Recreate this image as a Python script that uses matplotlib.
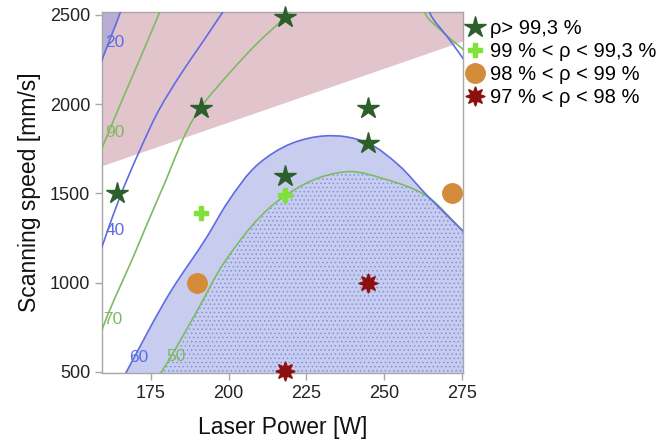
import matplotlib
matplotlib.use("Agg")
import matplotlib.pyplot as plt
from matplotlib.path import Path
from matplotlib.patches import PathPatch
import numpy as np

plt.rcParams['font.family'] = ['Liberation Sans', 'DejaVu Sans']
plt.rcParams['hatch.linewidth'] = 0.6

# ---- data ----
star_P = [164, 191, 218, 218, 245, 245]
star_v = [1500, 1980, 2490, 1600, 1980, 1780]
plus_P = [191, 218]
plus_v = [1390, 1490]
circ_P = [190, 272]
circ_v = [1000, 1500]
red_P = [245, 218]
red_v = [1000, 505]

legend_labels = ["\u03c1> 99,3 %", "99 % < \u03c1 < 99,3 %",
                 "98 % < \u03c1 < 99 %", "97 % < \u03c1 < 98 %"]

# contour lines (laser power, scanning speed)
g90_P = [159.0, 159.7, 164.0, 168.8, 173.3, 177.7, 179.0]
g90_v = [1743, 1771, 1950, 2145, 2327, 2509, 2562]
b20_P = [158.8, 159.7, 162.4, 165.1, 165.6]
b20_v = [2225, 2266, 2387, 2509, 2535]
b40_P = [159.0, 159.7, 165.1, 171.5, 177.4, 184.9, 191.4, 197.5, 198.5]
b40_v = [1187, 1221, 1482, 1743, 1960, 2175, 2341, 2499, 2525]
g70_P = [159.0, 159.7, 169.4, 178.5, 190.6, 200.5, 208.5, 218.4, 220.5]
g70_v = [720, 754, 1146, 1519, 1970, 2178, 2328, 2490, 2525]
b60_P = [166.2, 167.2, 181.7, 193.0, 199.8, 209.6, 220.3, 231.0, 237.4,
         244.9, 254.6, 263.7, 274.4, 275.6]
b60_v = [470, 502, 959, 1255, 1452, 1665, 1780, 1822, 1818,
         1781, 1660, 1491, 1306, 1285]
g50_P = [177.3, 178.5, 189.5, 198.8, 218.1, 230.0, 239.0, 250.3,
         263.2, 274.4, 275.6]
g50_v = [470, 502, 830, 1118, 1486, 1593, 1622, 1580,
         1491, 1306, 1285]
g_ur_P = [262.5, 263.2, 268.5, 274.4, 276.0]
g_ur_v = [2545, 2509, 2410, 2322, 2300]
b_ur_P = [264.0, 264.8, 270.0, 275.0, 276.0]
b_ur_v = [2550, 2509, 2385, 2266, 2240]

pink_P = [159.3, 275.4]
pink_v = [1655, 2354]

labels_txt = ["20", "90", "40", "70", "60", "50"]
labels_P = [163.5, 163.5, 163.5, 162.7, 171.2, 183.1]
labels_v = [2345, 1841, 1290, 791, 581, 587]
labels_col = ["b", "g", "b", "g", "b", "g"]

# ---- styling ----
GREEN = "#7dbb62"
BLUE = "#5e6de0"
BLUE_FILL = "#8592de"
PINK = "#e2c4cd"
SX, SY = 3.11, 0.1786   # approx. pixels per data unit (for spacing weights)


def bezier_through(xs, ys):
    """Smooth Bezier path (Bessel tangents) passing through the read points."""
    p = np.column_stack([xs, ys]).astype(float)
    n = len(p)
    q = p * [SX, SY]
    d = np.hypot(*(np.diff(q, axis=0).T))
    d = np.maximum(d, 1e-6)
    m = np.zeros_like(p)
    for i in range(n):
        if i == 0:
            m[i] = (p[1] - p[0]) / d[0]
        elif i == n - 1:
            m[i] = (p[-1] - p[-2]) / d[-1]
        else:
            s0 = (p[i] - p[i - 1]) / d[i - 1]
            s1 = (p[i + 1] - p[i]) / d[i]
            m[i] = (s0 * d[i] + s1 * d[i - 1]) / (d[i - 1] + d[i])
    verts = [p[0]]
    codes = [Path.MOVETO]
    for i in range(n - 1):
        h = d[i] / 3.0
        verts += [p[i] + m[i] * h, p[i + 1] - m[i + 1] * h, p[i + 1]]
        codes += [Path.CURVE4] * 3
    return verts, codes


def curve_line(ax, xs, ys, **kw):
    v, c = bezier_through(xs, ys)
    ax.add_patch(PathPatch(Path(v, c), fill=False, **kw))


def curve_fill_below(ax, xs, ys, base, **kw):
    v, c = bezier_through(xs, ys)
    v = v + [(xs[-1], base), (xs[0], base), (xs[0], ys[0])]
    c = c + [Path.LINETO, Path.LINETO, Path.CLOSEPOLY]
    ax.add_patch(PathPatch(Path(v, c), **kw))


def curve_fill_left(ax, xs, ys, left, top, **kw):
    v, c = bezier_through(xs, ys)
    v = v + [(xs[-1], top), (left, top), (left, ys[0]), (xs[0], ys[0])]
    c = c + [Path.LINETO, Path.LINETO, Path.LINETO, Path.CLOSEPOLY]
    ax.add_patch(PathPatch(Path(v, c), **kw))


fig = plt.figure(figsize=(6.58, 4.45), dpi=100)
ax = fig.add_axes([102/658, 1-373/445, (463-102)/658, (373-12)/445])
xlim = (159.3, 275.4)
ylim = (494, 2516)

# pink region
ax.fill_between(pink_P, pink_v, [3000, 3000], color=PINK, lw=0, zorder=1)
# blue region under 60
curve_fill_below(ax, b60_P, b60_v, 0, facecolor=BLUE_FILL, alpha=0.45, lw=0, zorder=2)
# top-left corner region
curve_fill_left(ax, b20_P, b20_v, 100, 3000, facecolor=BLUE_FILL, alpha=0.45, lw=0,
                zorder=2)
# dotted region under 50
curve_fill_below(ax, g50_P, g50_v, 0, facecolor='none', edgecolor="#7f92e2", lw=0,
                 hatch='....', zorder=3)

for P, v, c in [(g90_P, g90_v, GREEN), (g70_P, g70_v, GREEN), (g50_P, g50_v, GREEN),
                (g_ur_P, g_ur_v, GREEN),
                (b20_P, b20_v, BLUE), (b40_P, b40_v, BLUE), (b60_P, b60_v, BLUE),
                (b_ur_P, b_ur_v, BLUE)]:
    curve_line(ax, P, v, edgecolor=c, lw=1.2, zorder=4)

for t, x, y, c in zip(labels_txt, labels_P, labels_v, labels_col):
    ax.text(x, y, t, color=(BLUE if c == "b" else GREEN), fontsize=12.5,
            ha='center', va='center', zorder=5)

h1, = ax.plot(star_P, star_v, ls='none', marker='*', ms=16, color="#2c5f2a",
              mec="#2c5f2a", zorder=6, clip_on=False, label=legend_labels[0])
h2, = ax.plot(plus_P, plus_v, ls='none', marker='P', ms=10.5, color="#7ee23a",
              mec="#7ee23a", zorder=6, clip_on=False, label=legend_labels[1])
h3, = ax.plot(circ_P, circ_v, ls='none', marker='o', ms=14, color="#d48c3a",
              mec="#d48c3a", zorder=6, clip_on=False, label=legend_labels[2])
h4, = ax.plot(red_P, red_v, ls='none', marker=(8, 1, 0), ms=14, color="#8c1010",
              mec="#8c1010", zorder=6, clip_on=False, label=legend_labels[3])

ax.set_xlim(*xlim)
ax.set_ylim(*ylim)

leg = fig.legend(handles=[h1, h2, h3, h4], loc='upper left',
                 bbox_to_anchor=(462/658, 1-19/445), frameon=False,
                 fontsize=14.5, labelspacing=0.2, handletextpad=0.1,
                 handlelength=1.3, borderaxespad=0, borderpad=0)

for s in ax.spines.values():
    s.set_color("#a8a8a8")
    s.set_linewidth(1.0)
ax.tick_params(colors="#a8a8a8", labelcolor="#222222", length=5, width=1,
               labelsize=13)
ax.set_xticks([175, 200, 225, 250, 275])
ax.set_yticks([500, 1000, 1500, 2000, 2500])
ax.set_xlabel("Laser Power [W]", fontsize=16.5, color="#111111", labelpad=10)
ax.set_ylabel("Scanning speed [mm/s]", fontsize=16.5, color="#111111", labelpad=6)

fig.savefig("out.png", dpi=100)
